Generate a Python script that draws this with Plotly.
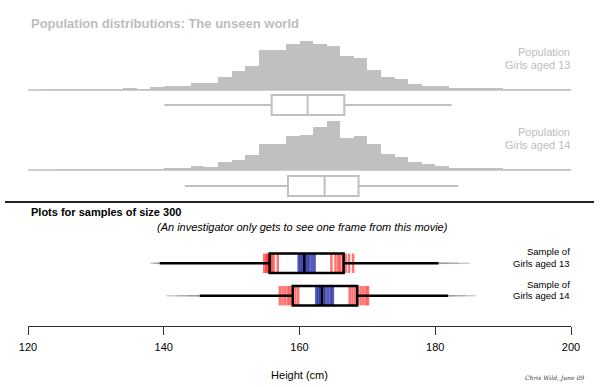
import plotly.graph_objects as go

# ---------------- data ----------------
bin_left = [120, 122, 124, 126, 128, 130, 132, 134, 136, 138,
            140, 142, 144, 146, 148, 150, 152, 154, 156, 158,
            160, 162, 164, 166, 168, 170, 172, 174, 176, 178,
            180, 182, 184, 186, 188, 190, 192, 194, 196, 198]
pop13_pct = [0, 0.08, 0.12, 0.04, 0.02, 0.16, 0.16, 0.3, 0.2, 0.6,
             0.9, 0.9, 1.4, 1.4, 2.7, 3.8, 4.9, 8.1, 8.0, 9.3,
             9.86, 9.3, 8.9, 6.9, 6.4, 4.0, 2.56, 2.3, 1.2, 0.8,
             0.8, 0.5, 0.5, 0.26, 0.4, 0.16, 0.16, 0.1, 0.08, 0.04]
pop14_pct = [0, 0, 0.06, 0.06, 0.04, 0.06, 0.1, 0.2, 0.14, 0.1,
             0.44, 0.34, 0.86, 0.56, 1.66, 2.1, 3.0, 5.2, 5.2, 6.86,
             7.1, 8.6, 9.8, 6.4, 6.76, 5.16, 3.24, 2.66, 1.66, 1.2,
             0.86, 0.46, 0.34, 0.34, 0.3, 0.2, 0.1, 0.06, 0.04, 0.02]

group_labels = ["Girls aged 13", "Girls aged 14"]

# population box plots
pop_lo = [140.1, 143.1]
pop_q1 = [155.9, 158.3]
pop_med = [161.2, 163.7]
pop_q3 = [166.6, 168.7]
pop_hi = [182.4, 183.4]

# current frame of the sample box plots (n = 300)
samp_lo = [139.4, 145.3]
samp_q1 = [155.6, 159.0]
samp_med = [160.7, 163.3]
samp_q3 = [166.5, 168.5]
samp_hi = [180.5, 181.9]

# earlier frames of the movie (ghost traces)
frames_q1 = [[154.8, 155.1, 155.3, 155.5, 155.7, 155.9, 156.2, 156.8],
             [157.1, 157.5, 157.9, 158.3, 158.6, 159.0, 159.4, 159.8]]
frames_med = [[159.9, 160.2, 160.5, 160.8, 161.1, 161.4, 161.8, 162.2],
              [162.5, 162.8, 163.1, 163.5, 163.8, 164.2, 164.6, 164.9]]
frames_q3 = [[164.7, 165.3, 165.7, 166.0, 166.4, 166.8, 167.3, 167.9],
             [167.4, 167.8, 168.2, 168.6, 169.0, 169.4, 169.8, 170.1]]
frames_lo = [[138.0, 138.5, 139.0], [140.4, 142.0, 143.5]]
frames_hi = [[182.0, 183.5, 185.1], [183.0, 184.5, 185.9]]

x_ticks = [120, 140, 160, 180, 200]

# ---------------- layout helpers ----------------
W, H = 600, 387
ML, MR = 28, 29
PW = W - ML - MR


def py(p):
    return 1 - p / H


def px(p):
    return (p - ML) / PW


FONT = "Liberation Sans, Arial, sans-serif"
GREY = "#c0c0c0"
GREY_TXT = "#bdbdbd"

fig = go.Figure()

# population histograms
pop_axes = ["y2", "y3"]
pop_pct = [pop13_pct, pop14_pct]
pop_box_pos = [-3.0, -3.2]
for i in range(2):
    fig.add_trace(go.Bar(x=bin_left, y=pop_pct[i], width=2, offset=0,
                         marker=dict(color=GREY, line=dict(width=0)),
                         xaxis="x", yaxis=pop_axes[i], hoverinfo="skip"))
    fig.add_trace(go.Box(q1=[pop_q1[i]], median=[pop_med[i]], q3=[pop_q3[i]],
                         lowerfence=[pop_lo[i]], upperfence=[pop_hi[i]],
                         y=[pop_box_pos[i]], orientation="h", width=4.0,
                         whiskerwidth=0, boxpoints=False,
                         line=dict(color=GREY, width=2), fillcolor="white",
                         xaxis="x", yaxis=pop_axes[i], name=group_labels[i]))

# sample box plots
samp_pos = [1, 2]
BW = 0.6
shapes = []
for i in range(2):
    p = samp_pos[i]
    for v in frames_lo[i]:
        shapes.append(dict(type="line", xref="x", yref="y", x0=v, x1=samp_lo[i],
                           y0=p, y1=p, line=dict(color="rgba(140,140,140,0.45)", width=1.5),
                           layer="below"))
    for v in frames_hi[i]:
        shapes.append(dict(type="line", xref="x", yref="y", x0=samp_hi[i], x1=v,
                           y0=p, y1=p, line=dict(color="rgba(140,140,140,0.45)", width=1.5),
                           layer="below"))
    for v in frames_q1[i] + frames_q3[i]:
        shapes.append(dict(type="line", xref="x", yref="y", x0=v, x1=v,
                           y0=p - BW / 2, y1=p + BW / 2,
                           line=dict(color="rgba(255,0,0,0.55)", width=2.5), layer="below"))
    for v in frames_med[i]:
        shapes.append(dict(type="line", xref="x", yref="y", x0=v, x1=v,
                           y0=p - BW / 2, y1=p + BW / 2,
                           line=dict(color="rgba(25,35,160,0.75)", width=2.8), layer="below"))
    fig.add_trace(go.Box(q1=[samp_q1[i]], median=[samp_med[i]], q3=[samp_q3[i]],
                         lowerfence=[samp_lo[i]], upperfence=[samp_hi[i]],
                         y=[p], orientation="h", width=BW, whiskerwidth=0,
                         boxpoints=False, line=dict(color="black", width=2.5),
                         fillcolor="rgba(0,0,0,0)", xaxis="x", yaxis="y",
                         name=group_labels[i]))

# histogram baselines
for ax in ["y2", "y3"]:
    shapes.append(dict(type="line", xref="x", yref=ax, x0=120, x1=200, y0=0, y1=0,
                       line=dict(color=GREY, width=1.6), layer="above"))

# separator
shapes.append(dict(type="line", xref="paper", yref="paper", x0=px(5), x1=px(594),
                   y0=py(202), y1=py(202), line=dict(color="#222", width=2)))

ann = []


def add_text(text, x, y, size, color="black", xanchor="left", bold=False, italic=False, family=FONT):
    if bold:
        text = "<b>" + text + "</b>"
    if italic:
        text = "<i>" + text + "</i>"
    ann.append(dict(text=text, x=px(x), y=py(y), xref="paper", yref="paper",
                    xanchor=xanchor, yanchor="middle", showarrow=False,
                    font=dict(size=size, color=color, family=family)))


add_text("Population distributions: The unseen world", 28.5, 23, 13, GREY_TXT, bold=True)
add_text("Population", 572, 51.7, 11, GREY_TXT, xanchor="right")
add_text(group_labels[0], 572, 65, 11, GREY_TXT, xanchor="right")
add_text("Population", 572, 131.7, 11, GREY_TXT, xanchor="right")
add_text(group_labels[1], 572, 145, 11, GREY_TXT, xanchor="right")
add_text("Plots for samples of size 300", 28.5, 212, 11, "black", bold=True)
add_text("(An investigator only gets to see one frame from this movie)", 302, 227, 11,
         "black", xanchor="center", italic=True)
add_text("Sample of", 572, 251.7, 9.5, "black", xanchor="right")
add_text(group_labels[0], 572, 263.3, 9.5, "black", xanchor="right")
add_text("Sample of", 572, 284.3, 9.5, "black", xanchor="right")
add_text(group_labels[1], 572, 295.5, 9.5, "black", xanchor="right")
add_text("Chris Wild, June 09", 586, 378, 6, "#333", xanchor="right", italic=True,
         family="DejaVu Serif, serif")

fig.update_layout(
    width=W, height=H,
    margin=dict(l=ML, r=MR, t=0, b=0, pad=0),
    paper_bgcolor="white", plot_bgcolor="rgba(0,0,0,0)",
    showlegend=False, bargap=0,
    font=dict(family=FONT, size=11, color="black"),
    shapes=shapes, annotations=ann,
    xaxis=dict(range=[120, 200], domain=[0, 1], anchor="free", position=py(326),
               showline=True, linecolor="#333", linewidth=1.4,
               ticks="outside", ticklen=8, tickwidth=1.3, tickcolor="#333",
               tickvals=x_ticks, ticktext=[str(t) for t in x_ticks],
               tickfont=dict(size=11, color="black"), ticklabelstandoff=3,
               showgrid=False, zeroline=False,
               title=dict(text="Height (cm)", font=dict(size=11, color="black"), standoff=18)),
    yaxis=dict(domain=[py(320), py(240)], range=[2.75, 0.281], visible=False,
               showgrid=False, zeroline=False),
    yaxis2=dict(domain=[py(120), py(30)], range=[-6, 12], visible=False,
                showgrid=False, zeroline=False),
    yaxis3=dict(domain=[py(200), py(110)], range=[-6, 12], visible=False,
                showgrid=False, zeroline=False),
)

fig.write_html("out.html", config={"displayModeBar": False},
               post_script="document.body.style.margin='0px';")
